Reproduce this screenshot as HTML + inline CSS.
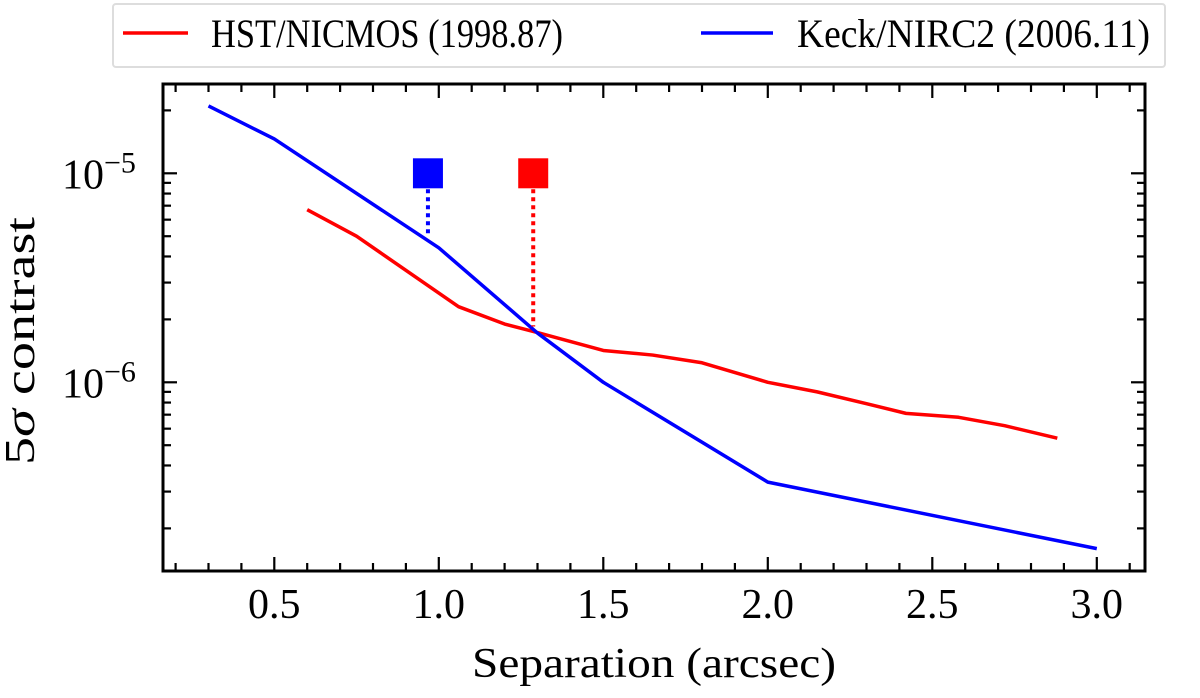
<!DOCTYPE html>
<html><head><meta charset="utf-8"><style>
html,body{margin:0;padding:0;background:#fff;}
svg text{font-family:"Liberation Serif",serif;fill:#000;}
</style></head><body>
<svg id="chart" width="1200" height="693" viewBox="0 0 1200 693" xmlns="http://www.w3.org/2000/svg">
<g id="plot"></g>
<g id="legend">
  <rect x="113" y="4" width="1052" height="63" rx="3" fill="#fff" stroke="#ddd" stroke-width="2"/>
  <line x1="123" y1="33" x2="188" y2="33" stroke="#f00" stroke-width="3.5"/>
  <text x="211" y="47" font-size="40" textLength="352" lengthAdjust="spacingAndGlyphs">HST/NICMOS (1998.87)</text>
  <line x1="701" y1="33" x2="773" y2="33" stroke="#00f" stroke-width="3.5"/>
  <text x="797" y="47" font-size="40" textLength="353" lengthAdjust="spacingAndGlyphs">Keck/NIRC2 (2006.11)</text>
</g>
</svg>
<script>
const keckSep = [0.3, 0.5, 1.0, 1.3, 1.5, 2.0, 3.0];
const keckContrast = [2.1e-5, 1.46e-5, 4.4e-6, 1.72e-6, 1.0e-6, 3.33e-7, 1.6e-7];
const hstSep = [0.6, 0.75, 1.06, 1.2, 1.3, 1.5, 1.65, 1.8, 2.0, 2.15, 2.3, 2.42, 2.58, 2.72, 2.88];
const hstContrast = [6.7e-6, 5.0e-6, 2.3e-6, 1.9e-6, 1.73e-6, 1.42e-6, 1.35e-6, 1.24e-6, 1.0e-6, 0.9e-6, 0.79e-6, 0.71e-6, 0.68e-6, 0.62e-6, 0.54e-6];
const candSep = [0.967, 1.287];
const candTop = [1e-5, 1e-5];
const candBottom = [5.0e-6, 1.85e-6];
const candColors = ['#00f', '#f00'];
const xTicks = [0.5, 1.0, 1.5, 2.0, 2.5, 3.0];
const xTickLabels = ['0.5', '1.0', '1.5', '2.0', '2.5', '3.0'];
const yDecades = [-5, -6];

const L=163, R=1145, T=84, B=571;
const X = v => 109.8 + v*329;
const Y = v => 173.3 - (Math.log10(v)+5)*209;
const ns='http://www.w3.org/2000/svg';
const g=document.getElementById('plot');
function mk(tag, attrs, parent){const e=document.createElementNS(ns,tag);for(const k in attrs)e.setAttribute(k,attrs[k]);(parent||g).appendChild(e);return e;}

const frame=mk('rect',{x:L,y:T,width:R-L,height:B-T,fill:'none',stroke:'#000','stroke-width':3});



for(let i=2;i<=31;i++){
  const v=i/10, x=X(v); if(x<L||x>R) continue;
  const major = i%5===0; const len = major?14:8;
  const t1=mk('line',{x1:x,y1:B,x2:x,y2:B-len,stroke:'#000','stroke-width':2.2});
  
  
  const t2=mk('line',{x1:x,y1:T,x2:x,y2:T+len,stroke:'#000','stroke-width':2.2});
  
  
}
xTicks.forEach((v,i)=>{
  const t=mk('text',{x:X(v),y:618,'font-size':42,'text-anchor':'middle'});
  t.textContent=xTickLabels[i];
  
  
});
for(let d=-8; d<=-4; d++){
  for(let m=1;m<=9;m++){
    const v=m*Math.pow(10,d), y=Y(v); if(y<T||y>B) continue;
    const len = m===1?14:8;
    const a=mk('line',{x1:L,y1:y,x2:L+len,y2:y,stroke:'#000','stroke-width':2.2});
    
    
    const b=mk('line',{x1:R,y1:y,x2:R-len,y2:y,stroke:'#000','stroke-width':2.2});
    
    
  }
}
yDecades.forEach(d=>{
  const t=mk('text',{x:62,y:Y(Math.pow(10,d))+15,'font-size':42});
  t.textContent='10';
  
  
  const s=mk('tspan',{dy:-16,'font-size':30},t); s.textContent='\u2212'+(-d);
});
const xt=mk('text',{x:472,y:677,'font-size':42,textLength:364,lengthAdjust:'spacingAndGlyphs'});
xt.textContent='Separation (arcsec)';


const yt=mk('text',{x:0,y:0,'font-size':42,textLength:248,lengthAdjust:'spacingAndGlyphs',transform:'translate(34,465) rotate(-90)'});


yt.textContent='5';
const ys=mk('tspan',{'font-style':'italic'},yt); ys.textContent='\u03c3';
const ys2=mk('tspan',{},yt); ys2.textContent=' contrast';

function line(xs,ys,color,name){
  const p=mk('polyline',{points:xs.map((x,i)=>X(x)+','+Y(ys[i])).join(' '),fill:'none',stroke:color,'stroke-width':3.5,'stroke-linejoin':'round'});
  
  
}
line(hstSep,hstContrast,'#f00','hst-nicmos-line');
line(keckSep,keckContrast,'#00f','keck-nirc2-line');

candSep.forEach((s,i)=>{
  const x=X(s);
  const d=mk('line',{x1:x,y1:Y(candTop[i]),x2:x,y2:Y(candBottom[i]),stroke:candColors[i],'stroke-width':4,'stroke-dasharray':'4 4'});
  
  
  const r=mk('rect',{x:x-15,y:Y(candTop[i])-15,width:30,height:30,fill:candColors[i]});
  
  
});
</script>
</body></html>
